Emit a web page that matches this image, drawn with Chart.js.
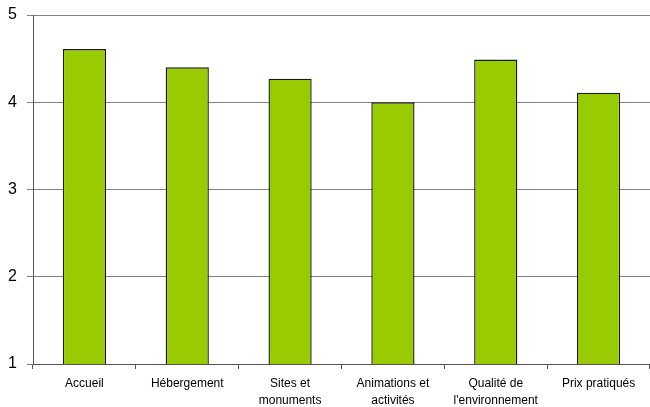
<!DOCTYPE html>
<html>
<head>
<meta charset="utf-8">
<script src="https://cdn.jsdelivr.net/npm/chart.js@4"></script>
<style>
  body { margin: 0; background: #fff; }
</style>
</head>
<body>
<canvas id="chart" width="650" height="407"></canvas>
<script>
// données
const categories = [
  'Accueil',
  'Hébergement',
  ['Sites et', 'monuments'],
  ['Animations et', 'activités'],
  ['Qualité de', "l'environnement"],
  'Prix pratiqués'
];
const scores = [4.61, 4.40, 4.27, 4.00, 4.49, 4.11];
const yTicks = [1, 2, 3, 4, 5];

const ctx = document.getElementById('chart');
new Chart(ctx, {
  type: 'bar',
  data: {
    labels: categories,
    datasets: [{
      data: scores,
      backgroundColor: '#99cc00',
      borderColor: '#1a1a1a',
      borderWidth: 1.4,
      borderSkipped: 'bottom',
      barPercentage: 0.42,
      categoryPercentage: 1
    }]
  },
  options: {
    responsive: false,
    animation: false,
    layout: { padding: { top: 15, right: 0, left: 0, bottom: 0 } },
    plugins: {
      legend: { display: false },
      tooltip: { enabled: false }
    },
    scales: {
      y: {
        min: 1,
        max: 5,
        afterBuildTicks: (axis) => { axis.ticks = yTicks.map(v => ({ value: v })); },
        afterFit: (axis) => {
          axis.width = 33;
          axis.paddingTop = 0;
          axis.paddingBottom = 0;
        },
        ticks: {
          color: '#000',
          padding: 10,
          font: { family: 'Liberation Sans, Arial', size: 16 }
        },
        grid: { color: '#808080', tickLength: 6, lineWidth: 1 },
        border: { color: '#555555', width: 1 }
      },
      x: {
        offset: true,
        afterFit: (axis) => { axis.height = 43; },
        ticks: {
          color: '#000',
          padding: 6,
          font: { family: 'Liberation Sans, Arial', size: 12, lineHeight: 1.42 }
        },
        grid: { offset: true, drawOnChartArea: false, tickLength: 5, color: '#555555' },
        border: { color: '#555555', width: 1 }
      }
    }
  }
});
</script>
</body>
</html>
